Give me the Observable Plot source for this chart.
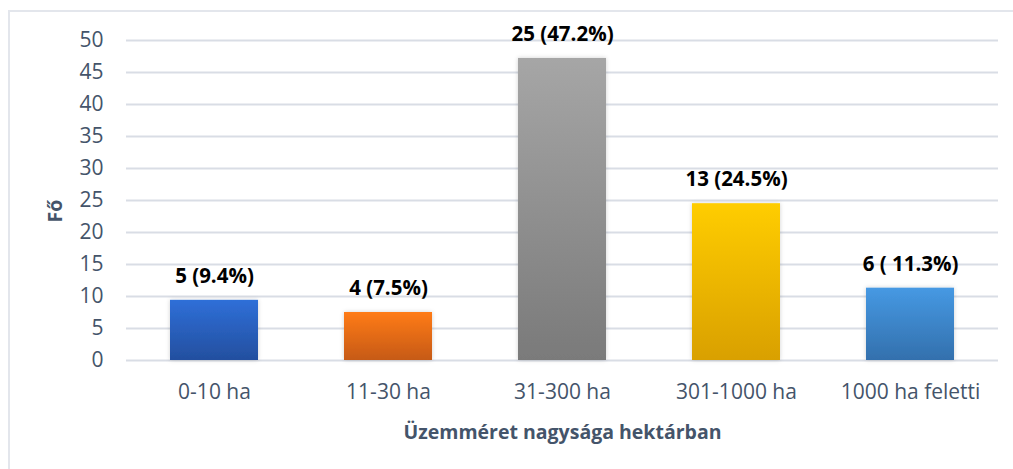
<!DOCTYPE html>
<html>
<head>
<meta charset="utf-8">
<script src="https://cdn.jsdelivr.net/npm/d3@7"></script>
<script src="https://cdn.jsdelivr.net/npm/@observablehq/plot@0.6"></script>
<style>
  html, body { margin: 0; padding: 0; background: #fff; }
  #wrap { position: relative; width: 1013px; height: 469px; overflow: hidden; }
  #frame { position: absolute; left: 8px; top: 10px; width: 1100px; height: 600px; border: 2px solid #e3e6ec; box-sizing: border-box; }
  #chart { position: absolute; left: 0; top: 0; }
</style>
</head>
<body>
<div id="wrap"><div id="frame"></div><div id="chart"></div></div>
<script>
const categories = ["0-10 ha", "11-30 ha", "31-300 ha", "301-1000 ha", "1000 ha feletti"];
const percents = [9.4, 7.5, 47.2, 24.5, 11.3];
const counts = [5, 4, 25, 13, 6];
const valueLabels = ["5 (9.4%)", "4 (7.5%)", "25 (47.2%)", "13 (24.5%)", "6 ( 11.3%)"];
const yTicks = [0, 5, 10, 15, 20, 25, 30, 35, 40, 45, 50];
const gradTop = ["#2f6fd8", "#ff7b17", "#a6a6a6", "#ffcd00", "#4699e3"];
const gradBottom = ["#234f9f", "#c65a12", "#7a7a7a", "#d9a000", "#3370ad"];
const xTitle = "Üzemméret nagysága hektárban";
const yTitle = "Fő";

const data = categories.map((c, i) => ({cat: c, pct: percents[i], n: counts[i], label: valueLabels[i], idx: i}));
const FONT = "'Open Sans', sans-serif";
const textColor = "#44546a";

const plot = Plot.plot({
  width: 1013,
  height: 469,
  marginLeft: 126,
  marginRight: 15,
  marginTop: 40,
  marginBottom: 109,
  style: {fontFamily: FONT, background: "transparent", overflow: "visible"},
  x: {domain: categories, paddingInner: 0.4954, paddingOuter: 0.2466, label: null},
  y: {domain: [0, 50], label: null},
  marks: [
    Plot.gridY(yTicks, {stroke: "#d9dde5", strokeOpacity: 1, strokeWidth: 2}),
    Plot.barY(data, {x: "cat", y: "pct", fill: "#888", className: "bars"}),
    Plot.text(data, {x: "cat", y: "pct", text: "label", dy: -24, fontSize: 20.5, fontWeight: "bold", fill: "#000", lineAnchor: "middle"}),
    Plot.axisY(yTicks, {tickSize: 0, tickPadding: 23, fontSize: 21, fill: textColor, label: null}),
    Plot.axisX({tickSize: 0, tickPadding: 24, fontSize: 21, fill: textColor, label: null}),
    Plot.text([xTitle], {frameAnchor: "bottom", dy: 72, fontSize: 19.5, fontWeight: "bold", fill: textColor, lineAnchor: "middle"}),
    Plot.text([yTitle], {frameAnchor: "left", dx: -71, dy: 22, rotate: -90, fontSize: 19.5, fontWeight: "bold", fill: textColor, lineAnchor: "middle"})
  ]
});

// gradients and subtle shadow
const svg = d3.select(plot);
const defs = svg.insert("defs", ":first-child");
const shadow = defs.append("filter").attr("id", "barShadow").attr("x", "-10%").attr("y", "-10%").attr("width", "120%").attr("height", "120%");
shadow.append("feDropShadow").attr("dx", 0).attr("dy", 0).attr("stdDeviation", 2).attr("flood-color", "#000").attr("flood-opacity", 0.18);
categories.forEach((c, i) => {
  const g = defs.append("linearGradient").attr("id", "grad" + i).attr("x1", 0).attr("y1", 0).attr("x2", 0).attr("y2", 1);
  g.append("stop").attr("offset", "0%").attr("stop-color", gradTop[i]);
  g.append("stop").attr("offset", "100%").attr("stop-color", gradBottom[i]);
});
svg.selectAll("g.bars rect").each(function(d, j) {
  d3.select(this).attr("fill", "url(#grad" + j + ")").attr("filter", "url(#barShadow)");
});

document.getElementById("chart").appendChild(plot);
</script>
</body>
</html>
